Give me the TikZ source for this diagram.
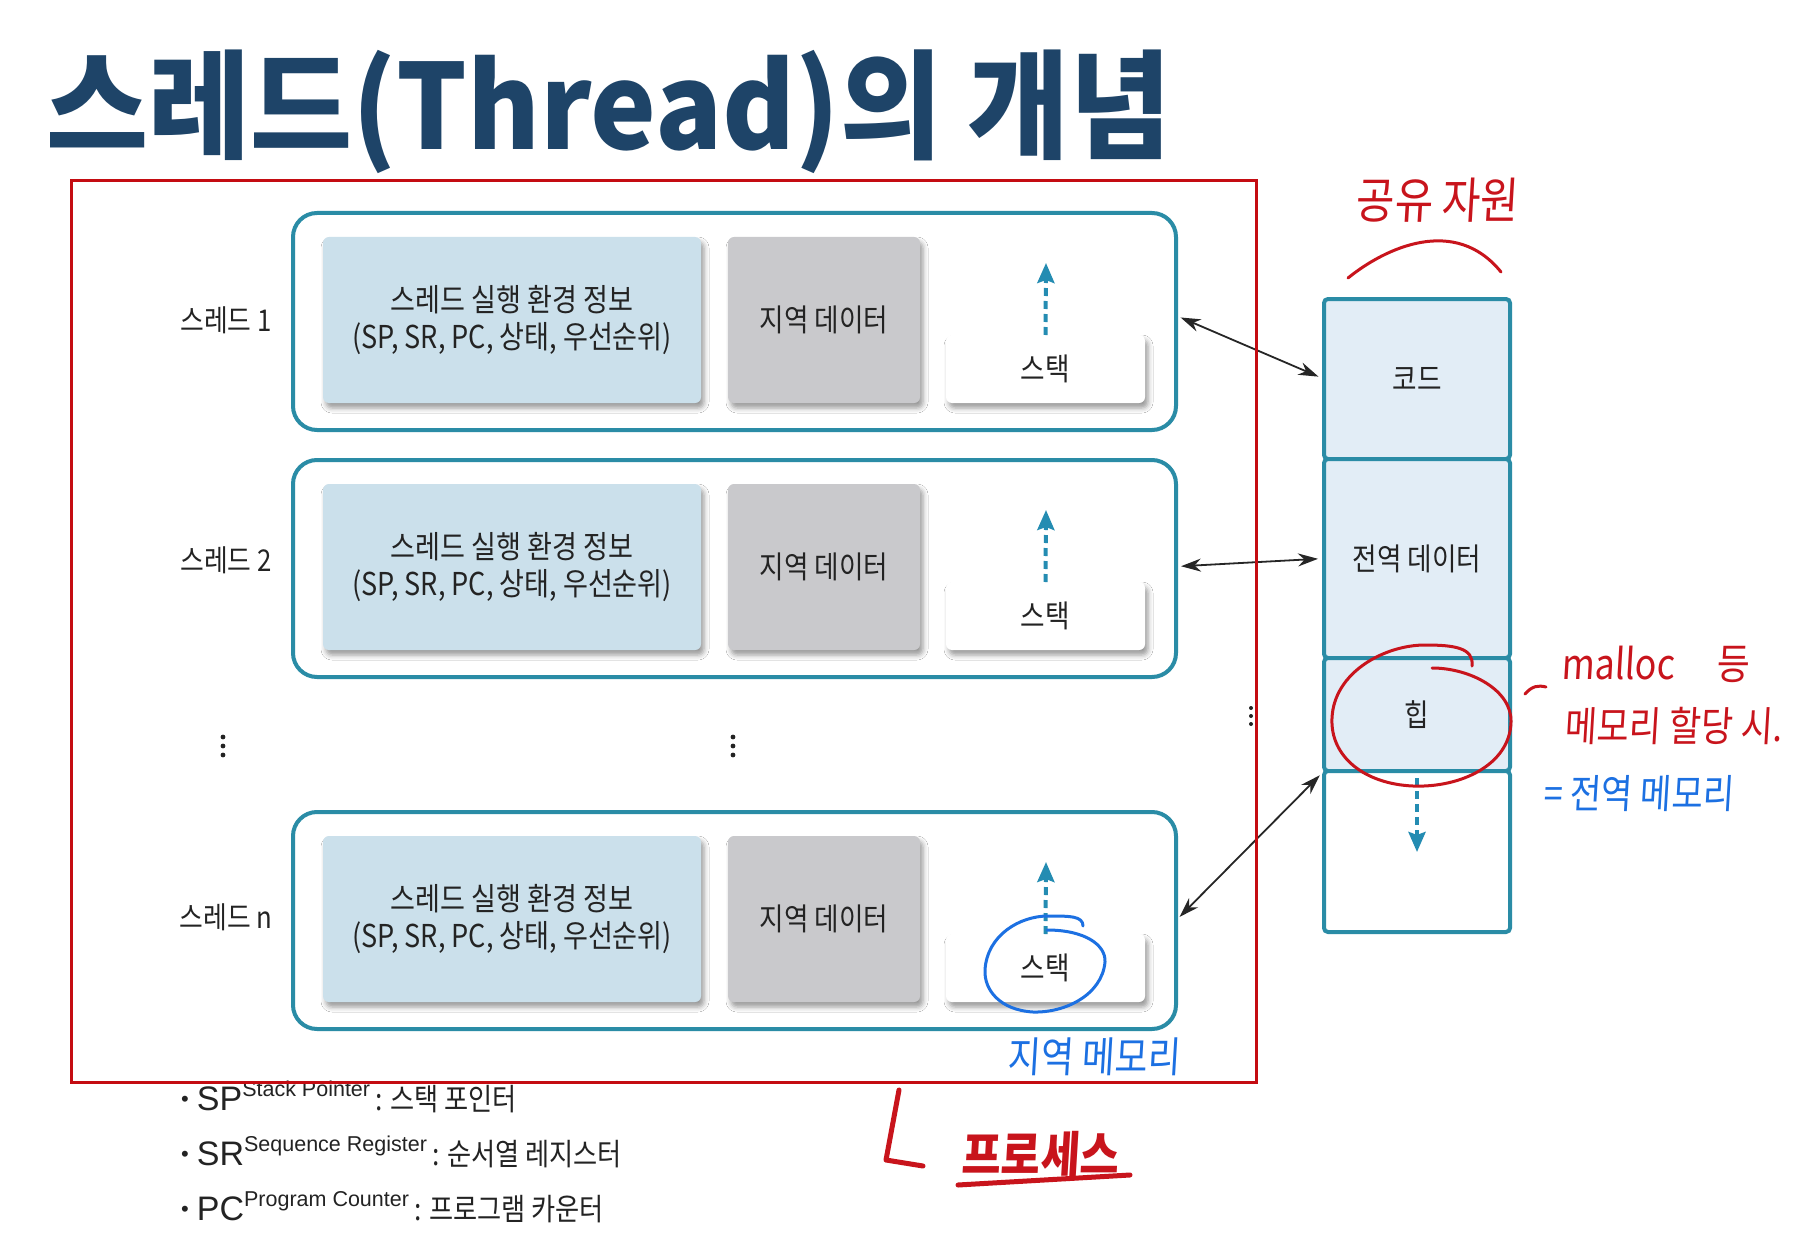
\documentclass[tikz,border=0pt]{standalone}
\usepackage{fontspec}
\setmainfont{Liberation Sans}
\newfontfamily\krtitle[FakeStretch=0.94]{Noto Sans CJK KR}
\newfontfamily\krn[FakeStretch=0.86]{Noto Sans CJK KR}
\newfontfamily\hwf[FakeStretch=0.85,FakeSlant=0.06]{Noto Sans CJK KR}
\usetikzlibrary{arrows.meta,shadows.blur}
\newcommand\myfs[1]{\fontsize{#1}{#1}\selectfont}
\definecolor{titleblue}{RGB}{30,68,104}
\definecolor{framet}{RGB}{42,140,166}
\definecolor{infoblue}{RGB}{203,224,235}
\definecolor{localgray}{RGB}{201,201,204}
\definecolor{memfill}{RGB}{226,237,246}
\definecolor{dasht}{RGB}{36,140,178}
\definecolor{txt}{RGB}{35,35,35}
\definecolor{redframe}{RGB}{196,12,18}
\definecolor{hwred}{RGB}{200,20,28}
\definecolor{hwblue}{RGB}{28,112,226}
\tikzset{
  threadbox/.style={draw=framet, line width=4pt, rounded corners=24pt, minimum width=883pt, minimum height=217pt, anchor=north west, outer sep=0pt, inner sep=0pt},
  boxshadow/.style={blur shadow={shadow xshift=3pt, shadow yshift=-5pt, shadow blur radius=5pt, shadow opacity=40}},
  infobox/.style={boxshadow, fill=infoblue, rounded corners=6pt, minimum width=378pt, minimum height=166pt, anchor=north west, outer sep=0pt, inner sep=0pt, align=center, font=\krn\myfs{31.5}, text=txt},
  localbox/.style={boxshadow, fill=localgray, rounded corners=6pt, minimum width=192pt, minimum height=166pt, anchor=north west, outer sep=0pt, inner sep=0pt, font=\krn\myfs{31}, text=txt},
  stackbox/.style={boxshadow, fill=white, rounded corners=6pt, minimum width=199pt, minimum height=68pt, anchor=north west, outer sep=0pt, inner sep=0pt, font=\krn\myfs{31}, text=txt},
  lab/.style={font=\krn\myfs{30}, text=txt, inner sep=0pt},
  memseg/.style={draw=framet, line width=4pt, rounded corners=4pt, fill=memfill, minimum width=186pt, anchor=north west, outer sep=0pt, inner sep=0pt, font=\krn\myfs{31}, text=txt},
  growarrow/.style={draw=dasht, line width=4pt, dash pattern=on 8pt off 5pt, -{Stealth[length=20pt,width=17pt,inset=3pt]}},
  biarrow/.style={draw=black!85, line width=1.8pt, {Stealth[length=20pt,width=13pt]}-{Stealth[length=20pt,width=13pt]}, shorten >=6pt, shorten <=5pt},
  hw/.style={font=\hwf\myfs{42}, inner sep=0pt},
  hwline/.style={line width=3pt, line cap=round, line join=round},
}
\begin{document}
\begin{tikzpicture}[x=1pt,y=-1pt]
\path[use as bounding box, fill=white] (0,0) rectangle (1794,1252);

% title
\node[anchor=base west, text=titleblue, font=\krtitle\bfseries\myfs{118}, inner sep=0pt] (title) at (46,150) {스레드(Thread)의 개념};

% threads
\foreach \k/\T/\ly in {1/213/320, 2/460/560, n/812/917}{
  \node[threadbox] (t\k) at (293,\T) {};
  \node[infobox] (t\k info) at (323,\T+24) {스레드 실행 환경 정보\\[5pt](SP, SR, PC, 상태, 우선순위)};
  \node[localbox] (t\k local) at (728,\T+24) {지역 데이터};
  \node[stackbox] (t\k stack) at (946,\T+122) {스택};
  \coordinate (t\k tip) at (1046,\T+50);
  \draw[growarrow] (t\k stack.north) -- (t\k tip);
  \node[lab] (t\k lab) at (226,\ly) {스레드 \k};
}

% vertical dots
\foreach \yy in {737,746,755}{
  \fill[txt] (223,\yy) circle (2.4pt);
  \fill[txt] (733,\yy) circle (2.4pt);
}
\foreach \yy in {708,716,724}{
  \fill[txt] (1251,\yy) circle (2pt);
}

% memory column
\node[memseg, minimum height=160pt] (code) at (1324,299) {코드};
\node[memseg, minimum height=199pt] (gdata) at (1324,459) {전역 데이터};
\node[memseg, minimum height=113pt] (heap) at (1324,658) {힙};
\node[memseg, fill=white, minimum height=161pt] (free) at (1324,771) {};
\coordinate (freetip) at (1417,852);
\draw[growarrow] ([yshift=-7pt]free.north) -- (freetip);

% connectors
\draw[biarrow] ([yshift=6pt]t1.east) -- (code.west);
\draw[biarrow] ([yshift=2pt]t2.east) -- (gdata.west);
\draw[biarrow] (tn.east) -- (heap.south west);

% legend
\node[anchor=base west, inner sep=0pt, text=txt] (lg1) at (181,1110)
  {\myfs{22}\raisebox{4pt}{•}\hspace{8pt}\myfs{34}SP\raisebox{14pt}{\myfs{21.5}Stack Pointer}\hspace{5pt}{\krn\myfs{30.5}: 스택 포인터}};
\node[anchor=base west, inner sep=0pt, text=txt] (lg2) at (181,1165)
  {\myfs{22}\raisebox{4pt}{•}\hspace{8pt}\myfs{34}SR\raisebox{14pt}{\myfs{21.5}Sequence Register}\hspace{5pt}{\krn\myfs{30.5}: 순서열 레지스터}};
\node[anchor=base west, inner sep=0pt, text=txt] (lg3) at (181,1220)
  {\myfs{22}\raisebox{4pt}{•}\hspace{8pt}\myfs{34}PC\raisebox{14pt}{\myfs{21.5}Program Counter}\hspace{5pt}{\krn\myfs{30.5}: 프로그램 카운터}};

% process frame
\node[draw=redframe, line width=3pt, minimum width=1185pt, minimum height=901pt, anchor=north west, outer sep=0pt, inner sep=0pt] (proc) at (71,181) {};

% handwriting annotations
\node[hw, text=hwred, font=\hwf\myfs{49}] (share) at (1437,200) {공유 자원};
\draw[hwline, hwred] (1348,278) .. controls (1385,248) and (1455,215) .. (1501,272);
\draw[hwline, hwred] (1432,668) .. controls (1470,668) and (1512,690) .. (1511,722)
  .. controls (1510,765) and (1460,788) .. (1413,786)
  .. controls (1365,784) and (1330,757) .. (1332,718)
  .. controls (1334,672) and (1385,645) .. (1425,645)
  .. controls (1455,645) and (1474,648) .. (1472,666);
\draw[hwline, hwred] (1525,694) .. controls (1532,686) and (1538,685) .. (1546,687);
\node[hw, text=hwred, anchor=west] (mal) at (1561,664) {malloc\hspace{42pt}등};
\node[hw, text=hwred, anchor=west, font=\hwf\myfs{41}] (alloc) at (1564,726) {메모리 할당 시.};
\node[hw, text=hwblue, anchor=west, font=\hwf\myfs{40}] (glob) at (1543,794) {= 전역 메모리};
\draw[hwline, hwblue] (1047,930) .. controls (1085,930) and (1106,945) .. (1105,962)
  .. controls (1102,995) and (1065,1013) .. (1033,1012)
  .. controls (1000,1010) and (984,990) .. (985,970)
  .. controls (987,935) and (1020,916) .. (1048,916)
  .. controls (1070,916) and (1083,916) .. (1083,926);
\node[hw, text=hwblue] (locm) at (1094,1057) {지역 메모리};
\draw[hwred, line width=5pt, line cap=round, line join=round] (899,1090) -- (886,1160) -- (923,1166);
\node[hw, text=hwred, font=\hwf\bfseries\myfs{50}] (procl) at (1040,1155) {프로세스};
\draw[hwred, line width=5pt, line cap=round] (958,1185) -- (1130,1175);
\end{tikzpicture}
\end{document}
